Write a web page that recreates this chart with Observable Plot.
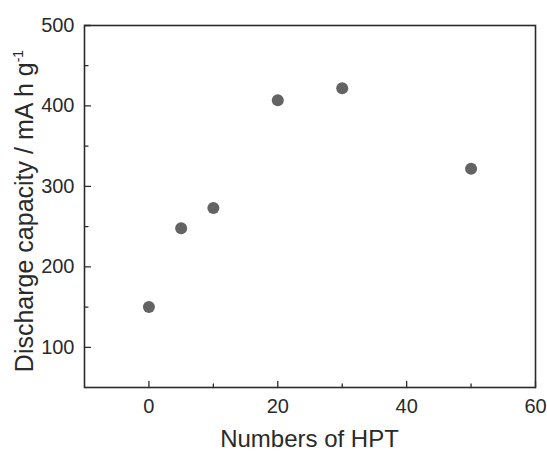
<!DOCTYPE html>
<html><head><meta charset="utf-8">
<script src="https://cdn.jsdelivr.net/npm/d3@7"></script>
<script src="https://cdn.jsdelivr.net/npm/@observablehq/plot@0.6"></script>
<style>body{margin:0;background:#fff;}</style>
</head><body><div id="chart"></div>
<script>
const hpt = [0, 5, 10, 20, 30, 50];
const capacity = [150, 248, 273, 407, 422, 322];
const xMajor = [0, 20, 40, 60];
const xMinor = [10, 30, 50];
const yMajor = [100, 200, 300, 400, 500];
const yMinor = [150, 250, 350, 450];
const xLabel = "Numbers of HPT";
const yLabel = "Discharge capacity / mA h g";
const yLabelSup = "-1";

const data = hpt.map((x, i) => ({x, y: capacity[i]}));
const tickShape = {draw(ctx, l) { ctx.moveTo(0, 0); ctx.lineTo(0, -l); }};
const ink = "#2a2a2a";
const font = "'Liberation Sans', Arial, sans-serif";

const chart = Plot.plot({
  width: 547, height: 451,
  marginLeft: 84, marginRight: 12, marginTop: 25, marginBottom: 64,
  style: {fontFamily: font, color: ink, background: "#fff"},
  x: {domain: [-10, 60], axis: null},
  y: {domain: [50, 500], axis: null},
  marks: [
    Plot.dot(data, {x: "x", y: "y", r: 6, fill: "#636363", stroke: "none"}),
    Plot.vector(xMajor, {x: d => d, frameAnchor: "bottom", length: 6, anchor: "start", shape: tickShape, stroke: ink, strokeWidth: 1.3}),
    Plot.vector(xMinor, {x: d => d, frameAnchor: "bottom", length: 3.5, anchor: "start", shape: tickShape, stroke: ink, strokeWidth: 1.3}),
    Plot.vector(yMajor, {y: d => d, frameAnchor: "left", rotate: 90, length: 6, anchor: "start", shape: tickShape, stroke: ink, strokeWidth: 1.3}),
    Plot.vector(yMinor, {y: d => d, frameAnchor: "left", rotate: 90, length: 3.5, anchor: "start", shape: tickShape, stroke: ink, strokeWidth: 1.3}),
    Plot.text(xMajor, {x: d => d, text: d => String(d), frameAnchor: "bottom", lineAnchor: "top", dy: 11, fontSize: 20, fill: ink}),
    Plot.text(yMajor, {y: d => d, text: d => String(d), frameAnchor: "left", textAnchor: "end", lineAnchor: "middle", dx: -10, fontSize: 20, fill: ink}),
    Plot.frame({stroke: "#2a2a2a", strokeWidth: 1.6})
  ]
});
document.getElementById("chart").appendChild(chart);

const svg = d3.select(chart);
svg.append("text")
  .attr("x", 309.5).attr("y", 447)
  .attr("text-anchor", "middle")
  .attr("font-family", font)
  .attr("font-size", 24).attr("fill", ink)
  .text(xLabel);
const yl = svg.append("text")
  .attr("transform", "translate(33,211) rotate(-90)")
  .attr("text-anchor", "middle")
  .attr("font-family", font)
  .attr("font-size", 25).attr("fill", ink);
yl.append("tspan").text(yLabel);
yl.append("tspan").attr("dy", -10).attr("font-size", 14).text(yLabelSup);
</script>
</body></html>
